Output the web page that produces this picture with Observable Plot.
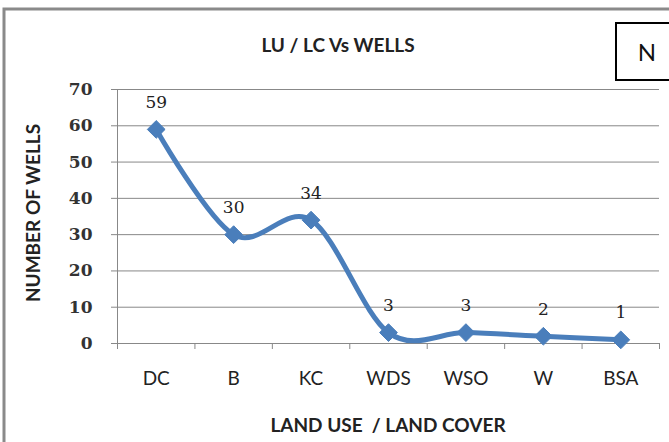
<!DOCTYPE html>
<html>
<head>
<meta charset="utf-8">
<script src="https://cdn.jsdelivr.net/npm/d3@7"></script>
<script src="https://cdn.jsdelivr.net/npm/@observablehq/plot@0.6"></script>
<style>
  html, body { margin: 0; padding: 0; background: #fff; }
  svg { display: block; }
</style>
</head>
<body>
<div id="chart"></div>
<script>
const categories = ["DC", "B", "KC", "WDS", "WSO", "W", "BSA"];
const wells = [59, 30, 34, 3, 3, 2, 1];
const yTicks = [0, 10, 20, 30, 40, 50, 60, 70];
const title = "LU / LC Vs WELLS";
const xTitle = "LAND USE  / LAND COVER";
const yTitle = "NUMBER OF WELLS";
const northLabel = "N";

const data = categories.map((c, i) => ({ i, cat: c, v: wells[i] }));
const idx = categories.map((c, i) => i);
const bounds = d3.range(categories.length + 1).map(i => i - 0.5);

const blue = "#4a7ebb";
const sans = "Lato, 'Open Sans', sans-serif";
const serif = "'DejaVu Serif', 'Liberation Serif', serif";

const chart = Plot.plot({
  width: 669,
  height: 442,
  marginLeft: 117,
  marginRight: 10,
  marginTop: 89,
  marginBottom: 99,
  style: { background: "#fff", overflow: "visible" },
  x: { type: "linear", domain: [-0.5, categories.length - 0.5] },
  y: { domain: [0, 70] },
  marks: [
    Plot.ruleY(yTicks, { stroke: "#888", strokeWidth: 1 }),
    Plot.ruleX([-0.5], { stroke: "#888", strokeWidth: 1 }),
    Plot.axisY({
      ticks: yTicks, tickSize: 6, tickPadding: 19, stroke: "#888",
      fontFamily: serif, fontSize: 17, fontWeight: "bold", fill: "#333",
      label: null
    }),
    Plot.axisX({
      ticks: bounds, tickSize: 6, stroke: "#888", tickFormat: () => "", label: null
    }),
    Plot.axisX({
      ticks: idx, tickSize: 0, tickPadding: 28, tickFormat: i => categories[i],
      fontFamily: sans, fontSize: 19, fill: "#222", label: null
    }),
    Plot.line(data, { x: "i", y: "v", stroke: blue, strokeWidth: 5, curve: d3.curveCardinal.tension(0) }),
    Plot.dot(data, { x: "i", y: "v", symbol: "diamond2", r: 8, fill: blue, stroke: blue, strokeWidth: 1 }),
    Plot.text(data, { x: "i", y: "v", text: d => String(d.v), dy: -27, fontFamily: serif, fontSize: 17, fill: "#222" })
  ]
});

const svg = d3.select(chart);
// outer frame
svg.insert("rect", ":first-child")
  .attr("x", 4).attr("y", 9).attr("width", 720).attr("height", 500)
  .attr("fill", "none").attr("stroke", "#8a8a8a").attr("stroke-width", 3);
// title
svg.append("text").attr("x", 338).attr("y", 52).attr("text-anchor", "middle")
  .attr("font-family", sans).attr("font-size", 19).attr("font-weight", "bold").attr("fill", "#222")
  .text(title);
// x title
svg.append("text").attr("x", 388).attr("y", 432).attr("text-anchor", "middle")
  .attr("font-family", sans).attr("font-size", 19).attr("font-weight", "bold").attr("fill", "#222")
  .text(xTitle);
// y title
svg.append("text").attr("transform", "translate(40,213) rotate(-90)").attr("text-anchor", "middle")
  .attr("font-family", sans).attr("font-size", 19).attr("font-weight", "bold").attr("fill", "#222")
  .text(yTitle);
// N box
svg.append("rect").attr("x", 616).attr("y", 23).attr("width", 70).attr("height", 57)
  .attr("fill", "#fff").attr("stroke", "#000").attr("stroke-width", 2);
svg.append("text").attr("x", 647).attr("y", 61).attr("text-anchor", "middle")
  .attr("font-family", sans).attr("font-size", 24).attr("fill", "#111")
  .text(northLabel);

document.getElementById("chart").appendChild(chart);
</script>
</body>
</html>
